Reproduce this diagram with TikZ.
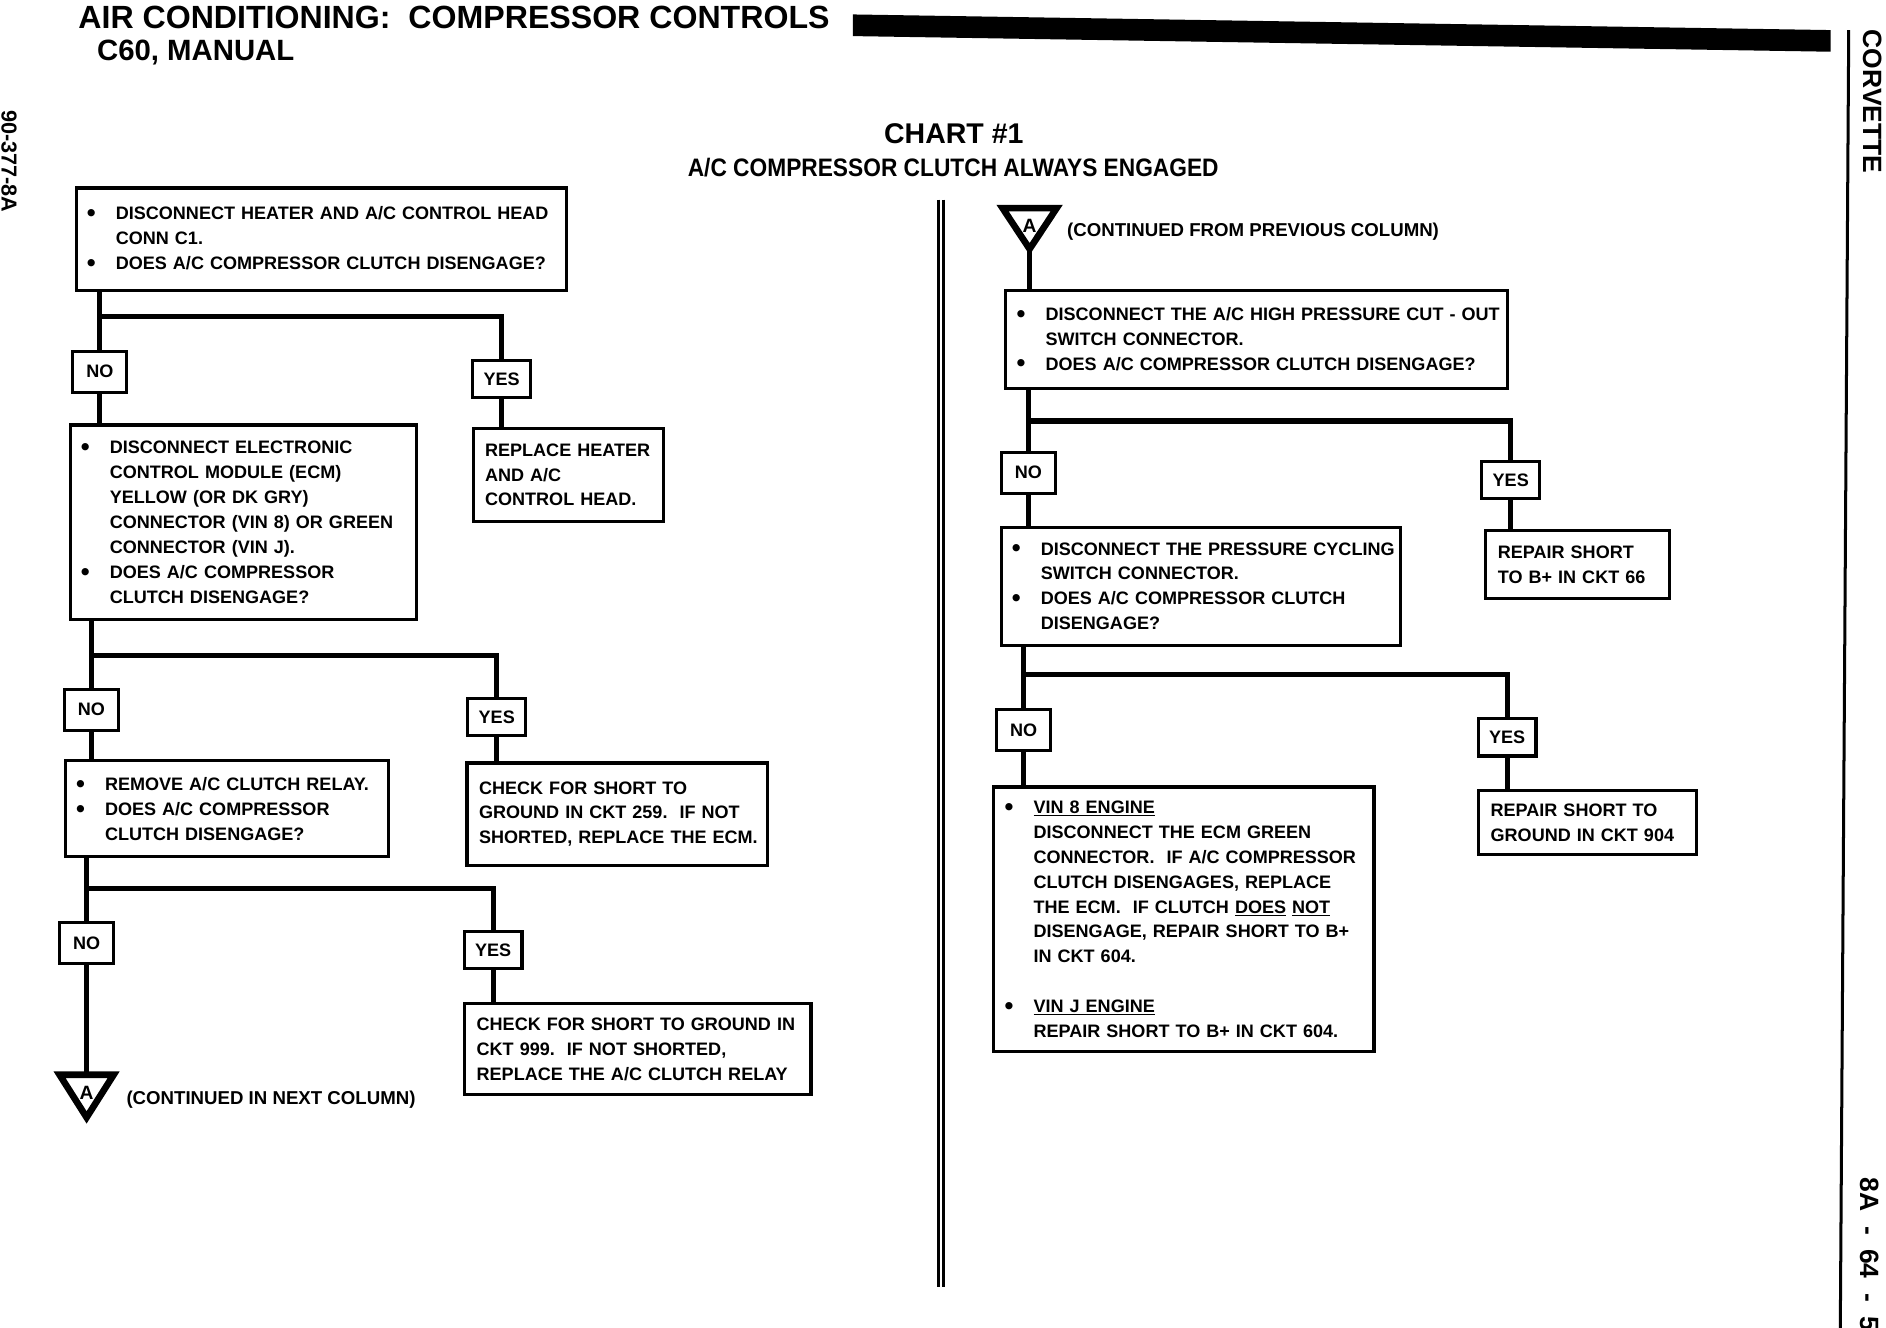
\documentclass[tikz,border=0pt]{standalone}
\usepackage{fontspec}
\setmainfont{Liberation Sans}
\newfontfamily\condfont{Liberation Sans}[FakeStretch=0.9]
\newcommand{\boxfont}{\fontsize{15}{20.7}\selectfont\bfseries}
\newcommand{\bigdot}{\raisebox{-1.6pt}{\fontsize{21}{21}\selectfont\textbullet}}
\newcommand{\bline}[1]{\mbox{\makebox[23pt][l]{\hspace{-1pt}\bigdot}#1}}
\newcommand{\iline}[1]{\mbox{\hspace*{23pt}#1}}
\newcommand{\pline}[1]{\mbox{#1}}
\begin{document}
\begin{tikzpicture}[x=1pt,y=-1pt,
  box/.style n args={3}{draw, line width=2.6pt, anchor=north west, inner xsep=10pt, inner ysep=0pt,
     align=left, minimum width=#1pt, minimum height=#2pt, text width=#3pt, font=\boxfont},
  yn/.style={draw, line width=2.6pt, minimum width=45pt, minimum height=34pt, inner sep=0pt, font=\boxfont},
  ys/.style={yn, minimum width=48pt, minimum height=31pt},
  conn/.style={line width=4.2pt},
  tri/.style={draw, line width=5.5pt, fill=white, line join=miter},
  lbl/.style={inner sep=0pt}
]
\useasboundingbox (0,0) rectangle (1568,1104);

% ---------- header ----------
\node[lbl, anchor=base west, font=\fontsize{26.7}{30}\selectfont\bfseries] (t1) at (65,23.5) {AIR CONDITIONING:\ \ COMPRESSOR CONTROLS};
\node[lbl, anchor=base west, font=\fontsize{24.4}{28}\selectfont\bfseries] (t2) at (80.5,50) {C60, MANUAL};
\fill (709,12) -- (1522,25) -- (1522,43) -- (709,30) -- cycle;
\node[lbl, anchor=base, font=\fontsize{23.7}{28}\selectfont\bfseries] (t3) at (793,119) {CHART \#1};
\node[lbl, anchor=base, font=\condfont\fontsize{21}{24}\selectfont\bfseries] (t4) at (792.5,147) {A/C COMPRESSOR CLUTCH ALWAYS ENGAGED};

% margins
\node[lbl, rotate=-90, font=\fontsize{18}{20}\selectfont\bfseries] (code) at (7.5,134) {90-377-8A};
\node[lbl, rotate=-90, font=\fontsize{22}{24}\selectfont\bfseries] (corv) at (1556.5,84.5) {CORVETTE};
\node[lbl, rotate=-90, anchor=west, font=\fontsize{22}{24}\selectfont\bfseries] (pg) at (1554,979) {8A\hspace{12pt}-\hspace{12pt}64\hspace{12pt}-\hspace{12pt}5};
\draw[line width=2.5pt] (1537,25) -- (1530,1104);
\draw[line width=2.5pt] (780,166) -- (780,1070);
\draw[line width=2.5pt] (784.5,166) -- (784.5,1070);

% ---------- left column ----------
\node[box={408}{85}{388}] (b1) at (62,155) {\bline{DISCONNECT HEATER AND A/C CONTROL HEAD}\\\iline{CONN C1.}\\\bline{DOES A/C COMPRESSOR CLUTCH DISENGAGE?}};
\node[yn] (no1) at (83,309) {NO};
\node[ys] (yes1) at (417,315) {YES};
\node[box={158}{77}{138}] (r1) at (392,355) {\pline{REPLACE HEATER}\\\pline{AND A/C}\\\pline{CONTROL HEAD.}};
\node[box={288}{162}{268}] (b2) at (57,352) {\bline{DISCONNECT ELECTRONIC}\\\iline{CONTROL MODULE (ECM)}\\\iline{YELLOW (OR DK GRY)}\\\iline{CONNECTOR (VIN 8) OR GREEN}\\\iline{CONNECTOR (VIN J).}\\\bline{DOES A/C COMPRESSOR}\\\iline{CLUTCH DISENGAGE?}};
\node[yn] (no2) at (76,590) {NO};
\node[ys] (yes2) at (413,596) {YES};
\node[box={269}{80}{249}] (b3) at (53,631) {\bline{REMOVE A/C CLUTCH RELAY.}\\\bline{DOES A/C COMPRESSOR}\\\iline{CLUTCH DISENGAGE?}};
\node[box={250}{85}{230}] (c259) at (387,633) {\pline{CHECK FOR SHORT TO}\\\pline{GROUND IN CKT 259.\ \ IF NOT}\\\pline{SHORTED, REPLACE THE ECM.}};
\node[yn] (no3) at (72,784) {NO};
\node[ys] (yes3) at (410,790) {YES};
\node[box={288}{76}{268}] (c999) at (385,833) {\pline{CHECK FOR SHORT TO GROUND IN}\\\pline{CKT 999.\ \ IF NOT SHORTED,}\\\pline{REPLACE THE A/C CLUTCH RELAY}};

\coordinate (h1) at (0,263);
\coordinate (h2) at (0,545);
\coordinate (h3) at (0,739);
\coordinate (tAtop) at (72,893.5);
\coordinate (j1) at (no1.north |- h1);
\coordinate (j2) at (no2.north |- h2);
\coordinate (j3) at (no3.north |- h3);

\draw[conn] (no1.north |- b1.south) -- (no1.north);
\draw[conn] (j1) -| (yes1.north);
\draw[conn] (yes1.south) -- (yes1.south |- r1.north);
\draw[conn] (no1.south) -- (no1.south |- b2.north);

\draw[conn] (no2.north |- b2.south) -- (no2.north);
\draw[conn] (j2) -| (yes2.north);
\draw[conn] (yes2.south) -- (yes2.south |- c259.north);
\draw[conn] (no2.south) -- (no2.south |- b3.north);

\draw[conn] (no3.north |- b3.south) -- (no3.north);
\draw[conn] (j3) -| (yes3.north);
\draw[conn] (yes3.south) -- (yes3.south |- c999.north);
\draw[conn] (no3.south) -- (tAtop);

\draw[tri] (49.5,893.5) -- (94.5,893.5) -- (72,929) -- cycle;
\node[lbl, font=\fontsize{16}{18}\selectfont\bfseries] (tA) at (72,908.5) {A};
\node[lbl, anchor=base west, font=\fontsize{15.5}{18}\selectfont\bfseries] (ct1) at (105,918) {(CONTINUED IN NEXT COLUMN)};

% ---------- right column ----------
\draw[tri] (833.5,173) -- (878.5,173) -- (856,207) -- cycle;
\node[lbl, font=\fontsize{16}{18}\selectfont\bfseries] (tB) at (856,187.5) {A};
\coordinate (tBbot) at (856,207);
\node[lbl, anchor=base west, font=\fontsize{15.5}{18}\selectfont\bfseries] (ct2) at (887,197) {(CONTINUED FROM PREVIOUS COLUMN)};

\node[box={417}{82}{397}] (b4) at (835,240) {\bline{DISCONNECT THE A/C HIGH PRESSURE CUT - OUT}\\\iline{SWITCH CONNECTOR.}\\\bline{DOES A/C COMPRESSOR CLUTCH DISENGAGE?}};
\node[yn] (no4) at (855,393) {NO};
\node[ys] (yes4) at (1256,399) {YES};
\node[box={153}{56}{133}] (r66) at (1234,440) {\pline{REPAIR SHORT}\\\pline{TO B+ IN CKT 66}};
\node[box={332}{98}{312}] (b5) at (831,437) {\bline{DISCONNECT THE PRESSURE CYCLING}\\\iline{SWITCH CONNECTOR.}\\\bline{DOES A/C COMPRESSOR CLUTCH}\\\iline{DISENGAGE?}};
\node[yn] (no5) at (851,607) {NO};
\node[ys] (yes5) at (1253,613) {YES};
\node[box={181}{53}{161}] (r904) at (1228,656) {\pline{REPAIR SHORT TO}\\\pline{GROUND IN CKT 904}};
\node[box={316}{220}{296}] (b6) at (825,653) {\bline{\underline{VIN 8 ENGINE}}\\\iline{DISCONNECT THE ECM GREEN}\\\iline{CONNECTOR.\ \ IF A/C COMPRESSOR}\\\iline{CLUTCH DISENGAGES, REPLACE}\\\iline{THE ECM.\ \ IF CLUTCH \underline{DOES} \underline{NOT}}\\\iline{DISENGAGE, REPAIR SHORT TO B+}\\\iline{IN CKT 604.}\\\mbox{}\\\bline{\underline{VIN J ENGINE}}\\\iline{REPAIR SHORT TO B+ IN CKT 604.}};

\coordinate (h4) at (0,350);
\coordinate (h5) at (0,561);
\coordinate (j4) at (no4.north |- h4);
\coordinate (j5) at (no5.north |- h5);

\draw[conn] (tBbot) -- (tBbot |- b4.north);
\draw[conn] (no4.north |- b4.south) -- (no4.north);
\draw[conn] (j4) -| (yes4.north);
\draw[conn] (yes4.south) -- (yes4.south |- r66.north);
\draw[conn] (no4.south) -- (no4.south |- b5.north);

\draw[conn] (no5.north |- b5.south) -- (no5.north);
\draw[conn] (j5) -| (yes5.north);
\draw[conn] (yes5.south) -- (yes5.south |- r904.north);
\draw[conn] (no5.south) -- (no5.south |- b6.north);
\end{tikzpicture}
\end{document}
